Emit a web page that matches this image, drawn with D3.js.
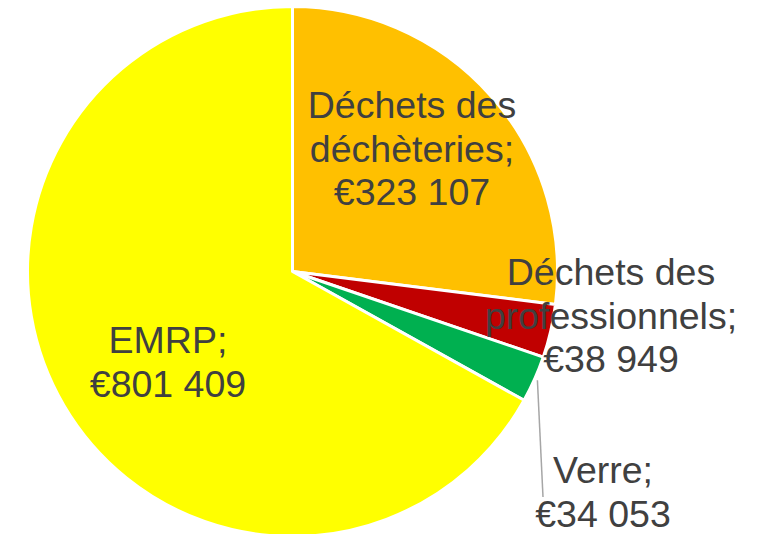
<!DOCTYPE html>
<html>
<head>
<meta charset="utf-8">
<script src="https://cdn.jsdelivr.net/npm/d3@7"></script>
<style>
  body { margin: 0; background: #fff; }
  text { font-family: "Liberation Sans", Arial, sans-serif; fill: #404040; }
</style>
</head>
<body>
<svg id="chart"></svg>
<script>
// Data
const categories = ["Déchets des déchèteries", "Déchets des professionnels", "Verre", "EMRP"];
const values = [323107, 38949, 34053, 801409];
const labelLines = [
    ["Déchets des", "déchèteries;", "€323 107"],
    ["Déchets des", "professionnels;", "€38 949"],
    ["Verre;", "€34 053"],
    ["EMRP;", "€801 409"]
];
const colours = ["#FFC000", "#C00000", "#00B050", "#FFFF00"];

// Layout
var local = {
    "svgwidth": 758,
    "svgheight": 534,
    "cx": 292.5,
    "cy": 271.5,
    "radius": 265,
    "fontsize": 37.5,
    "lineheight": 43.5
};
// label centres (first line), set by hand like the original
var labelPos = [[412, 105], [611, 272], [603, 470], [168, 340]];

var svg = d3.select("#chart")
    .attr("width", local.svgwidth)
    .attr("height", local.svgheight);

var g = svg.append("g")
    .attr("transform", "translate(" + local.cx + "," + local.cy + ")");

var pie = d3.pie().sort(null).value(function(d){ return d; });
var arc = d3.arc().innerRadius(0).outerRadius(local.radius);
var arcs = pie(values);

g.selectAll(".slice")
    .data(arcs)
    .enter()
    .append("path")
    .attr("class", "slice")
    .attr("d", arc)
    .attr("fill", function(d, i){ return colours[i]; })
    .attr("stroke", "#fff")
    .attr("stroke-width", 3)
    .attr("stroke-linejoin", "round");

// leader line for Verre
var verre = arcs[2];
var edge = d3.arc().innerRadius(local.radius + 3).outerRadius(local.radius + 3).centroid(verre);
svg.append("line")
    .attr("x1", local.cx + edge[0])
    .attr("y1", local.cy + edge[1])
    .attr("x2", 543)
    .attr("y2", 497)
    .attr("stroke", "#A6A6A6")
    .attr("stroke-width", 1.5);

// Labels
var labels = svg.selectAll(".label")
    .data(labelLines)
    .enter()
    .append("text")
    .attr("class", "label")
    .attr("text-anchor", "middle")
    .attr("font-size", local.fontsize)
    .attr("x", function(d, i){ return labelPos[i][0]; })
    .attr("y", function(d, i){ return labelPos[i][1]; });

labels.each(function(d, i){
    var t = d3.select(this);
    d.forEach(function(line, j){
        t.append("tspan")
            .attr("x", labelPos[i][0])
            .attr("y", labelPos[i][1] + j * local.lineheight)
            .attr("dy", "0.35em")
            .text(line);
    });
});
</script>
</body>
</html>
